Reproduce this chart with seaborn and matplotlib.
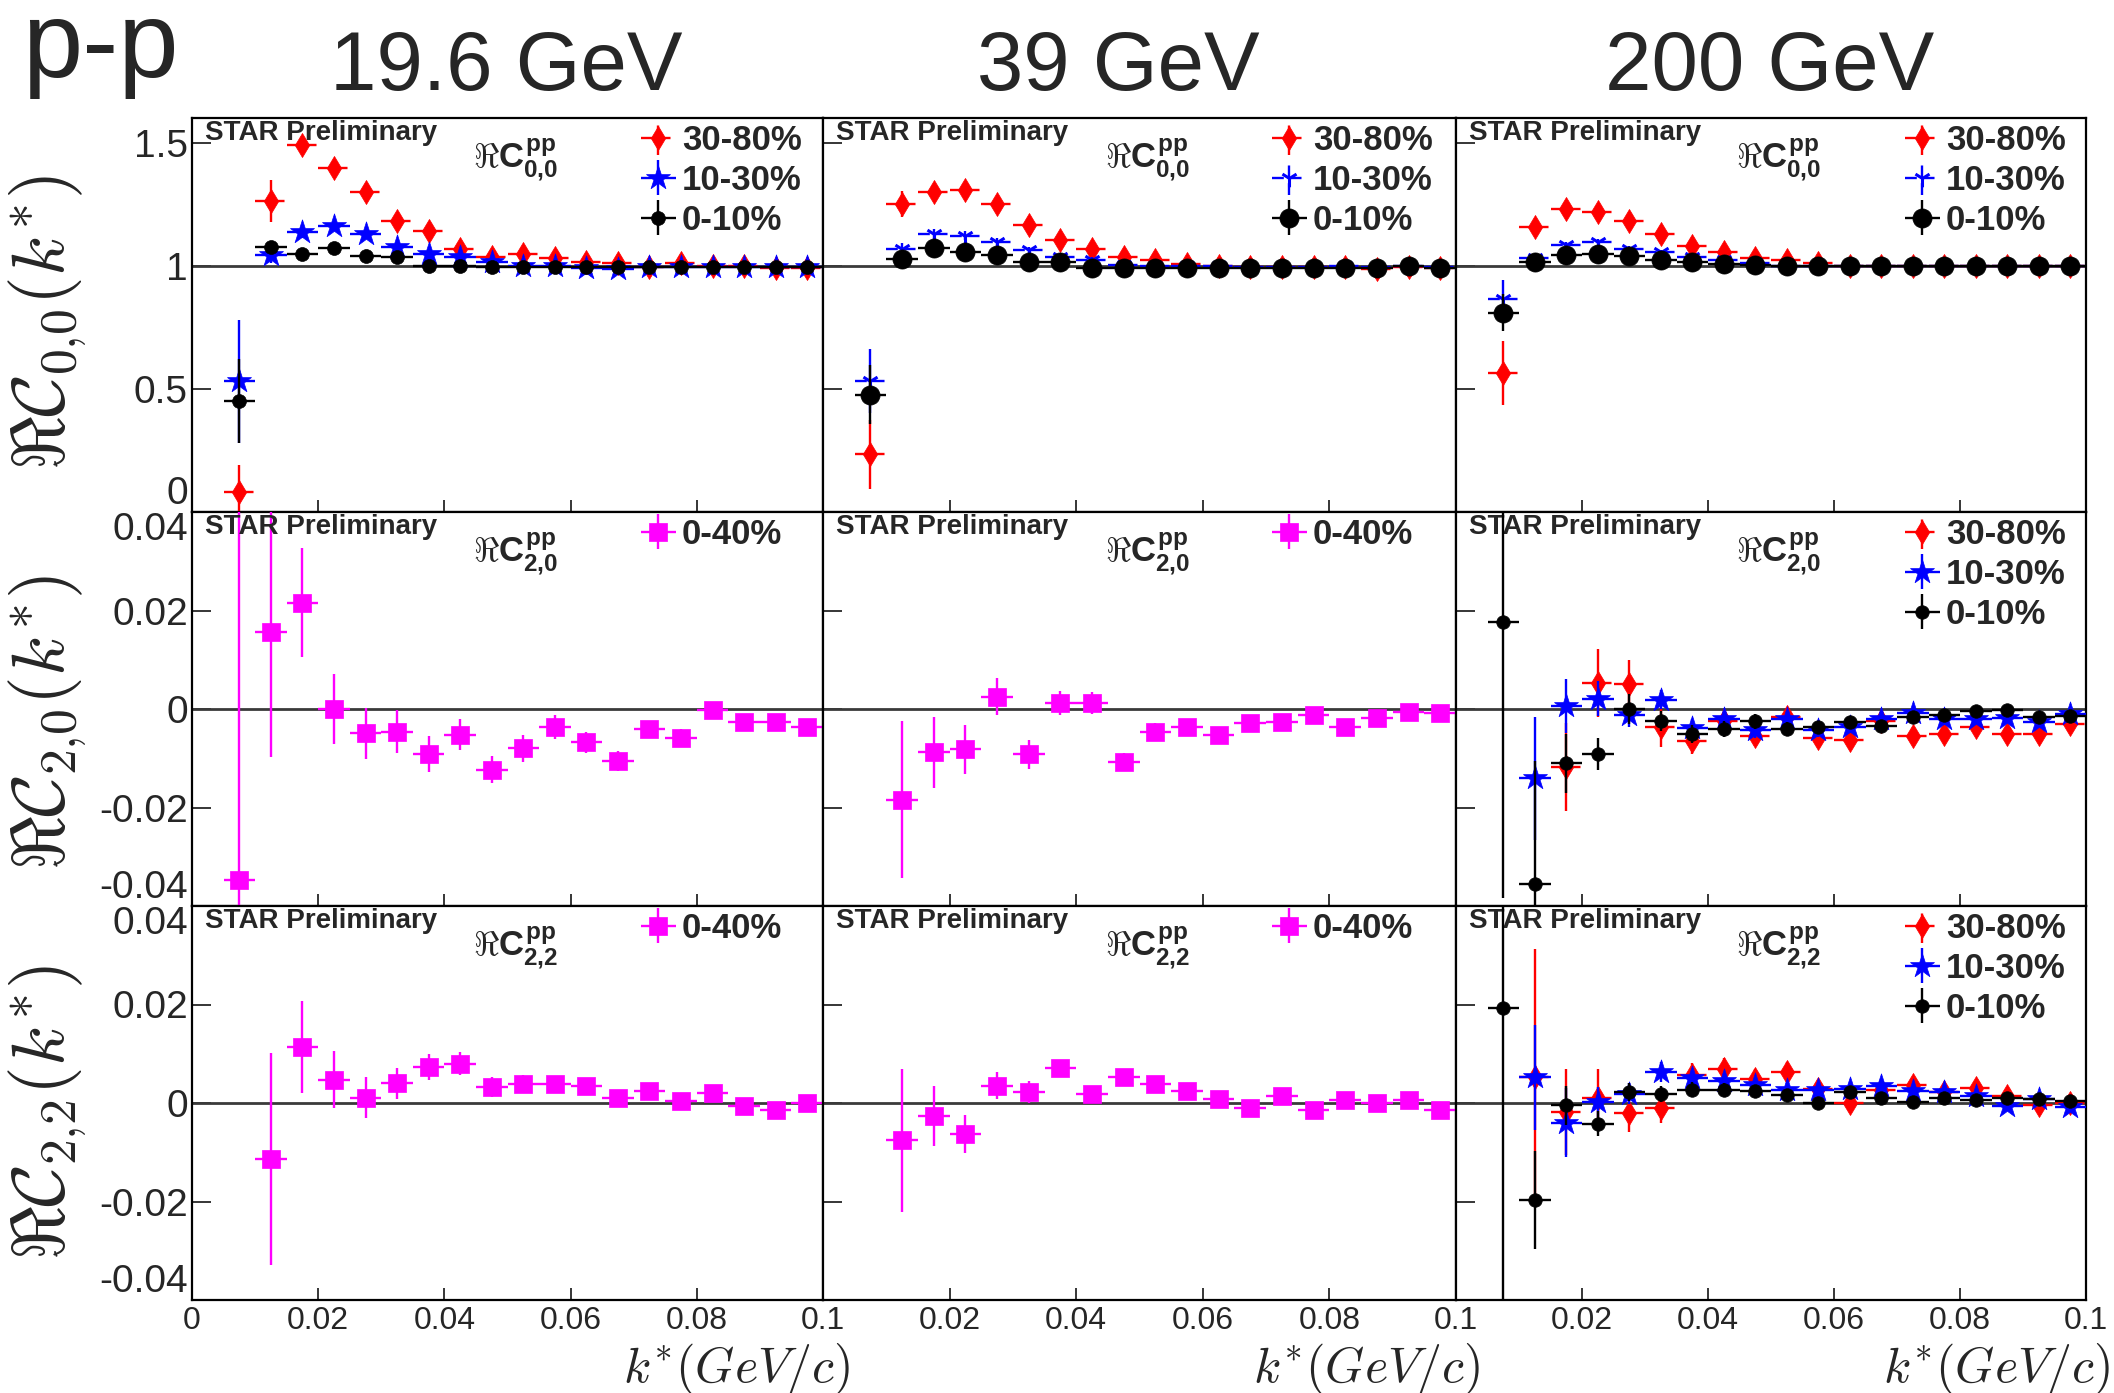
import numpy as np
import matplotlib
matplotlib.use("Agg")
import matplotlib.pyplot as plt
import seaborn as sns
from matplotlib.legend_handler import HandlerTuple

nan = np.nan
# ---------------- data ----------------
kstar = [0.0075, 0.0125, 0.0175, 0.0225, 0.0275, 0.0325, 0.0375, 0.0425, 0.0475, 0.0525,
         0.0575, 0.0625, 0.0675, 0.0725, 0.0775, 0.0825, 0.0875, 0.0925, 0.0975]
half_bin = 0.0025
energies = ["19.6 GeV", "39 GeV", "200 GeV"]
cent3 = ["30-80%", "10-30%", "0-10%"]
cent1 = ["0-40%"]

# Re C00, 19.6 GeV
c00_196_r = [0.08, 1.263, 1.489, 1.398, 1.301, 1.18, 1.142, 1.069, 1.035, 1.048, 1.03, 1.015, 1.01, 0.993, 1.01, 1.0, 1.0, 0.99, 0.99]
e00_196_r = [0.11, 0.087, 0.037, 0.025, 0.022, 0.02, 0.018, 0.016, 0.015, 0.014, 0.013, 0.012, 0.012, 0.011, 0.011, 0.01, 0.01, 0.01, 0.01]
c00_196_b = [0.531, 1.042, 1.136, 1.163, 1.129, 1.075, 1.048, 1.035, 1.015, 1.0, 1.0, 0.99, 0.987, 0.995, 0.995, 0.995, 0.995, 0.995, 0.993]
e00_196_b = [0.25, 0.03, 0.025, 0.02, 0.018, 0.016, 0.015, 0.014, 0.013, 0.012, 0.011, 0.011, 0.01, 0.01, 0.01, 0.009, 0.009, 0.009, 0.009]
c00_196_k = [0.45, 1.075, 1.048, 1.071, 1.039, 1.035, 1.0, 0.997, 0.994, 0.995, 0.995, 0.994, 0.994, 0.994, 0.994, 0.994, 0.994, 0.994, 0.994]
e00_196_k = [0.17, 0.025, 0.018, 0.015, 0.014, 0.013, 0.012, 0.011, 0.011, 0.01, 0.01, 0.01, 0.009, 0.009, 0.009, 0.009, 0.008, 0.008, 0.008]
# Re C00, 39 GeV
c00_39_r = [0.235, 1.25, 1.301, 1.308, 1.25, 1.167, 1.106, 1.066, 1.035, 1.022, 1.007, 1.0, 0.995, 0.996, 0.995, 0.996, 0.985, 0.993, 0.99]
e00_39_r = [0.14, 0.054, 0.03, 0.025, 0.02, 0.018, 0.016, 0.015, 0.014, 0.013, 0.012, 0.011, 0.011, 0.01, 0.01, 0.01, 0.01, 0.009, 0.009]
c00_39_b = [0.531, 1.069, 1.129, 1.122, 1.095, 1.062, 1.035, 1.022, 1.004, 1.0, 0.998, 0.997, 0.996, 0.996, 0.996, 0.997, 0.996, 0.997, 0.996]
e00_39_b = [0.13, 0.025, 0.02, 0.018, 0.016, 0.014, 0.013, 0.012, 0.011, 0.01, 0.01, 0.009, 0.009, 0.009, 0.008, 0.008, 0.008, 0.008, 0.008]
c00_39_k = [0.477, 1.028, 1.071, 1.055, 1.044, 1.015, 1.015, 0.99, 0.99, 0.99, 0.99, 0.99, 0.99, 0.99, 0.99, 0.99, 0.99, 0.997, 0.99]
e00_39_k = [0.12, 0.02, 0.017, 0.015, 0.013, 0.012, 0.011, 0.01, 0.01, 0.009, 0.009, 0.009, 0.008, 0.008, 0.008, 0.008, 0.008, 0.008, 0.008]
# Re C00, 200 GeV
c00_200_r = [0.565, 1.159, 1.23, 1.219, 1.183, 1.129, 1.082, 1.055, 1.031, 1.022, 1.011, 1.0, 0.998, 0.998, 0.998, 0.998, 0.998, 0.998, 0.998]
e00_200_r = [0.13, 0.02, 0.016, 0.014, 0.012, 0.011, 0.01, 0.009, 0.009, 0.008, 0.008, 0.007, 0.007, 0.007, 0.007, 0.006, 0.006, 0.006, 0.006]
c00_200_b = [0.863, 1.031, 1.085, 1.098, 1.069, 1.055, 1.035, 1.022, 1.012, 1.0, 1.0, 0.999, 0.999, 0.999, 0.999, 0.999, 0.999, 0.999, 0.999]
e00_200_b = [0.08, 0.016, 0.013, 0.011, 0.01, 0.009, 0.008, 0.008, 0.007, 0.007, 0.006, 0.006, 0.006, 0.006, 0.005, 0.005, 0.005, 0.005, 0.005]
c00_200_k = [0.809, 1.015, 1.042, 1.048, 1.039, 1.022, 1.015, 1.007, 1.004, 1.0, 1.0, 1.0, 1.0, 1.0, 1.0, 1.0, 1.0, 1.0, 1.0]
e00_200_k = [0.075, 0.014, 0.012, 0.01, 0.009, 0.008, 0.008, 0.007, 0.007, 0.006, 0.006, 0.006, 0.005, 0.005, 0.005, 0.005, 0.005, 0.005, 0.005]

# Re C20
c20_196 = [-0.0348, 0.0157, 0.0216, 0.0, -0.0049, -0.0046, -0.0091, -0.0052, -0.0123, -0.008, -0.0036, -0.0068, -0.0106, -0.0041, -0.0058, -0.0002, -0.0027, -0.0027, -0.0036]
e20_196 = [0.08, 0.0255, 0.0111, 0.0072, 0.0052, 0.0044, 0.0037, 0.0032, 0.0028, 0.0027, 0.0024, 0.0022, 0.002, 0.0017, 0.0017, 0.0015, 0.0012, 0.0012, 0.0012]
c20_39 = [nan, -0.0184, -0.0088, -0.0082, 0.0025, -0.0092, 0.0012, 0.0012, -0.0107, -0.0046, -0.0037, -0.0052, -0.0029, -0.0027, -0.0013, -0.0036, -0.0018, -0.0007, -0.0008]
e20_39 = [nan, 0.016, 0.0072, 0.0049, 0.0037, 0.0029, 0.0025, 0.0022, 0.0018, 0.0017, 0.0015, 0.0013, 0.0012, 0.0011, 0.0011, 0.001, 0.001, 0.001, 0.001]
c20_200_r = [nan, nan, -0.0118, 0.0053, 0.005, -0.0037, -0.0064, -0.0024, -0.0054, -0.0017, -0.0058, -0.0063, -0.0024, -0.0054, -0.0051, -0.0037, -0.005, -0.005, -0.0031]
e20_200_r = [nan, nan, 0.009, 0.0069, 0.005, 0.004, 0.0028, 0.0025, 0.0022, 0.002, 0.0019, 0.0018, 0.0017, 0.0016, 0.0015, 0.0015, 0.0014, 0.0014, 0.0013]
c20_200_b = [nan, -0.0141, 0.0006, 0.0021, -0.0012, 0.0019, -0.0039, -0.0021, -0.0043, -0.0021, -0.0043, -0.0037, -0.0021, -0.0009, -0.0021, -0.0021, -0.0019, -0.0027, -0.0011]
e20_200_b = [nan, 0.0125, 0.0055, 0.0035, 0.0025, 0.002, 0.0018, 0.0016, 0.0015, 0.0014, 0.0013, 0.0012, 0.0012, 0.0011, 0.0011, 0.001, 0.001, 0.001, 0.001]
c20_200_k = [0.0177, -0.0355, -0.011, -0.0091, 0.0, -0.0024, -0.0051, -0.0041, -0.0025, -0.0041, -0.0037, -0.0027, -0.0034, -0.0016, -0.0012, -0.0005, -0.0003, -0.0017, -0.0014]
e20_200_k = [0.056, 0.025, 0.006, 0.0032, 0.003, 0.002, 0.0018, 0.0016, 0.0015, 0.0014, 0.0013, 0.0012, 0.0012, 0.0011, 0.0011, 0.001, 0.001, 0.001, 0.001]

# Re C22
c22_196 = [nan, -0.0114, 0.0114, 0.0047, 0.0011, 0.004, 0.0073, 0.008, 0.0032, 0.0038, 0.0038, 0.0035, 0.0011, 0.0025, 0.0005, 0.002, -0.0007, -0.0014, 0.0]
e22_196 = [nan, 0.0215, 0.0093, 0.0058, 0.0042, 0.0031, 0.0026, 0.0023, 0.002, 0.0018, 0.0017, 0.0016, 0.0015, 0.0014, 0.0013, 0.0012, 0.0012, 0.0011, 0.0011]
c22_39 = [nan, -0.0076, -0.0027, -0.0063, 0.0035, 0.0023, 0.0071, 0.0018, 0.0052, 0.0038, 0.0025, 0.0008, -0.0011, 0.0015, -0.0014, 0.0006, 0.0, 0.0006, -0.0015]
e22_39 = [nan, 0.0145, 0.0061, 0.0039, 0.0027, 0.0022, 0.0017, 0.0017, 0.0015, 0.0014, 0.0013, 0.0012, 0.0011, 0.0011, 0.001, 0.001, 0.001, 0.001, 0.001]
c22_200_r = [nan, 0.0052, -0.0018, 0.001, -0.002, -0.0011, 0.0056, 0.0069, 0.0049, 0.0063, 0.0029, -0.0001, 0.0026, 0.0036, 0.0022, 0.0031, 0.0015, -0.0005, -0.0001]
e22_200_r = [nan, 0.026, 0.0087, 0.006, 0.0039, 0.003, 0.0025, 0.0023, 0.0021, 0.002, 0.0018, 0.0017, 0.0016, 0.0015, 0.0014, 0.0014, 0.0013, 0.0013, 0.0012]
c22_200_b = [nan, 0.0052, -0.004, 0.0002, 0.0019, 0.0063, 0.005, 0.0044, 0.0036, 0.0027, 0.0026, 0.0029, 0.0034, 0.0024, 0.0022, 0.0015, -0.0007, 0.0009, -0.0009]
e22_200_b = [nan, 0.0106, 0.007, 0.003, 0.0022, 0.002, 0.0018, 0.0016, 0.0015, 0.0014, 0.0013, 0.0012, 0.0012, 0.0011, 0.0011, 0.001, 0.001, 0.001, 0.001]
c22_200_k = [0.0192, -0.0197, -0.0005, -0.0042, 0.0022, 0.0019, 0.0027, 0.0027, 0.0024, 0.0017, -0.0001, 0.0022, 0.0011, 0.0002, 0.0011, 0.0007, 0.0011, 0.0009, 0.0004]
e22_200_k = [0.06, 0.0099, 0.004, 0.0025, 0.0018, 0.0016, 0.0015, 0.0014, 0.0013, 0.0012, 0.0012, 0.0011, 0.0011, 0.001, 0.001, 0.001, 0.001, 0.001, 0.001]

# ---------------- style ----------------
sns.set_style("ticks")
plt.rcParams["font.family"] = ["Liberation Sans", "DejaVu Sans"]
plt.rcParams["mathtext.fontset"] = "cm"
plt.rcParams["mathtext.rm"] = "Liberation Sans:bold"
plt.rcParams["mathtext.it"] = "Liberation Sans:bold"
plt.rcParams["mathtext.bf"] = "Liberation Sans:bold"

RED, BLUE, BLACK, MAG = "#ff0000", "#0000ff", "#000000", "#ff00ff"

W, H = 2114, 1393
fig = plt.figure(figsize=(W / 100, H / 100), dpi=100)
fig.patch.set_facecolor("white")

col_px = [(192, 631), (823, 633), (1456, 630)]
row_top = [118, 512, 906]
row_h = 394


def draw(ax, y, e, color, marker, s, lw=0.0, dashed=False, z=3):
    x = np.array(kstar)
    y = np.array(y, dtype=float)
    e = np.array(e, dtype=float)
    cont = ax.errorbar(x, y, xerr=half_bin, yerr=e, fmt="none", ecolor=color,
                       elinewidth=1.7, capsize=0, zorder=z)
    if dashed:
        cont[2][0].set_linestyle((0, (5, 2.5)))
    sns.scatterplot(x=x, y=y, marker=marker, s=s, color=color, edgecolor=color,
                    linewidth=lw, ax=ax, zorder=z + 0.5, legend=False)
    coll = ax.collections[-1]
    return (cont, coll)


panels = {
    (0, 0): [(c00_196_r, e00_196_r, RED, "d", 150, 0.5, True),
             (c00_196_b, e00_196_b, BLUE, "*", 330, 0.5, False),
             (c00_196_k, e00_196_k, BLACK, "o", 100, 0.5, False)],
    (0, 1): [(c00_39_r, e00_39_r, RED, "d", 150, 0.5, True),
             (c00_39_b, e00_39_b, BLUE, "1", 160, 2.2, True),
             (c00_39_k, e00_39_k, BLACK, "o", 190, 0.5, False)],
    (0, 2): [(c00_200_r, e00_200_r, RED, "d", 150, 0.5, True),
             (c00_200_b, e00_200_b, BLUE, "1", 160, 2.2, True),
             (c00_200_k, e00_200_k, BLACK, "o", 190, 0.5, False)],
    (1, 0): [(c20_196, e20_196, MAG, "s", 170, 0.5, False)],
    (1, 1): [(c20_39, e20_39, MAG, "s", 170, 0.5, False)],
    (1, 2): [(c20_200_r, e20_200_r, RED, "d", 150, 0.5, True),
             (c20_200_b, e20_200_b, BLUE, "*", 330, 0.5, False),
             (c20_200_k, e20_200_k, BLACK, "o", 95, 0.5, False)],
    (2, 0): [(c22_196, e22_196, MAG, "s", 170, 0.5, False)],
    (2, 1): [(c22_39, e22_39, MAG, "s", 170, 0.5, False)],
    (2, 2): [(c22_200_r, e22_200_r, RED, "d", 150, 0.5, True),
             (c22_200_b, e22_200_b, BLUE, "*", 330, 0.5, False),
             (c22_200_k, e22_200_k, BLACK, "o", 95, 0.5, False)],
}

coef_sub = ["0{,}0", "2{,}0", "2{,}2"]
ylims = [(0.0, 1.6), (-0.04, 0.04), (-0.04, 0.04)]
yticks = [[0, 0.5, 1, 1.5], [-0.04, -0.02, 0, 0.02, 0.04], [-0.04, -0.02, 0, 0.02, 0.04]]
ytlabels = [["0", "0.5", "1", "1.5"], ["-0.04", "-0.02", "0", "0.02", "0.04"],
            ["-0.04", "-0.02", "0", "0.02", "0.04"]]
ref_line = [1.0, 0.0, 0.0]

for r in range(3):
    for c in range(3):
        x0, w = col_px[c]
        ax = fig.add_axes([x0 / W, 1 - (row_top[r] + row_h) / H, w / W, row_h / H])
        ax.set_facecolor("white")
        ax.axhline(ref_line[r], color="#3a3a3a", lw=2.0, zorder=1)
        handles = []
        for i, (yv, ev, col, mk, s, lw, dsh) in enumerate(panels[(r, c)]):
            handles.append(draw(ax, yv, ev, col, mk, s, lw, dsh, z=3 + i))
        ax.set_xlim(0, 0.1)
        ax.set_ylim(*ylims[r])
        for sp in ax.spines.values():
            sp.set_visible(True)
            sp.set_linewidth(1.6)
            sp.set_color("black")
        ax.set_xticks([0.02, 0.04, 0.06, 0.08, 0.1] if c > 0 else [0, 0.02, 0.04, 0.06, 0.08, 0.1])
        ax.set_yticks(yticks[r])
        ax.tick_params(axis="x", direction="in", length=9, width=1.3, pad=4,
                       labelsize=23, bottom=True, top=False)
        ax.tick_params(axis="y", direction="in", length=14, width=1.3, pad=3,
                       labelsize=28, left=True, right=False)
        if r == 2:
            labs = ["0.02", "0.04", "0.06", "0.08", "0.1"] if c > 0 else ["0", "0.02", "0.04", "0.06", "0.08", "0.1"]
            ax.set_xticklabels(labs)
        else:
            ax.set_xticklabels([])
        if c == 0:
            ax.set_yticklabels(ytlabels[r])
            tl = ax.get_yticklabels()
            tl[0].set_va("bottom")
            if r > 0:
                tl[-1].set_va("top")
        else:
            ax.set_yticklabels([])
        ax.set_xlabel("")
        ax.set_ylabel("")

        ax.text(13 / w, 1 - 15 / row_h, "STAR Preliminary", transform=ax.transAxes,
                ha="left", va="center", fontsize=20, fontweight="bold")
        ax.text(0.445, 1 - 50 / row_h, r"$\Re C^{pp}_{%s}$" % coef_sub[r],
                transform=ax.transAxes, ha="left", va="baseline", fontsize=25,
                math_fontfamily="custom")
        labels = cent3 if len(handles) == 3 else cent1
        ax.legend(handles=handles, labels=labels,
                  handler_map={tuple: HandlerTuple(ndivide=1, pad=0)},
                  loc="upper left", bbox_to_anchor=(450 / w, 1 - 6 / row_h),
                  frameon=False, prop=dict(weight="bold", size=25),
                  handlelength=0.95, handletextpad=0.2, labelspacing=0.2,
                  borderpad=0, borderaxespad=0, scatterpoints=1, scatteryoffsets=[0.5])

# y labels
ylab_y = [322, 722, 1112]
for r in range(3):
    fig.text(48 / W, 1 - ylab_y[r] / H, r"$\Re\mathcal{C}_{%s}(k^{*})$" % coef_sub[r],
             rotation=90, ha="center", va="center", fontsize=53)

# x labels
xlab_right = [850, 1480, 2110]
for c in range(3):
    fig.text(xlab_right[c] / W, 1 - 1369 / H, r"$k^{*}(GeV/c)$", ha="right",
             va="center", fontsize=36)

# column titles
title_x = [506, 1118, 1770]
for c in range(3):
    fig.text(title_x[c] / W, 1 - 90 / H, energies[c], ha="center", va="baseline",
             fontsize=60)
fig.text(22 / W, 1 - 77 / H, "p-p", ha="left", va="baseline", fontsize=78)

fig.savefig("out.png", dpi=100, facecolor="white")
